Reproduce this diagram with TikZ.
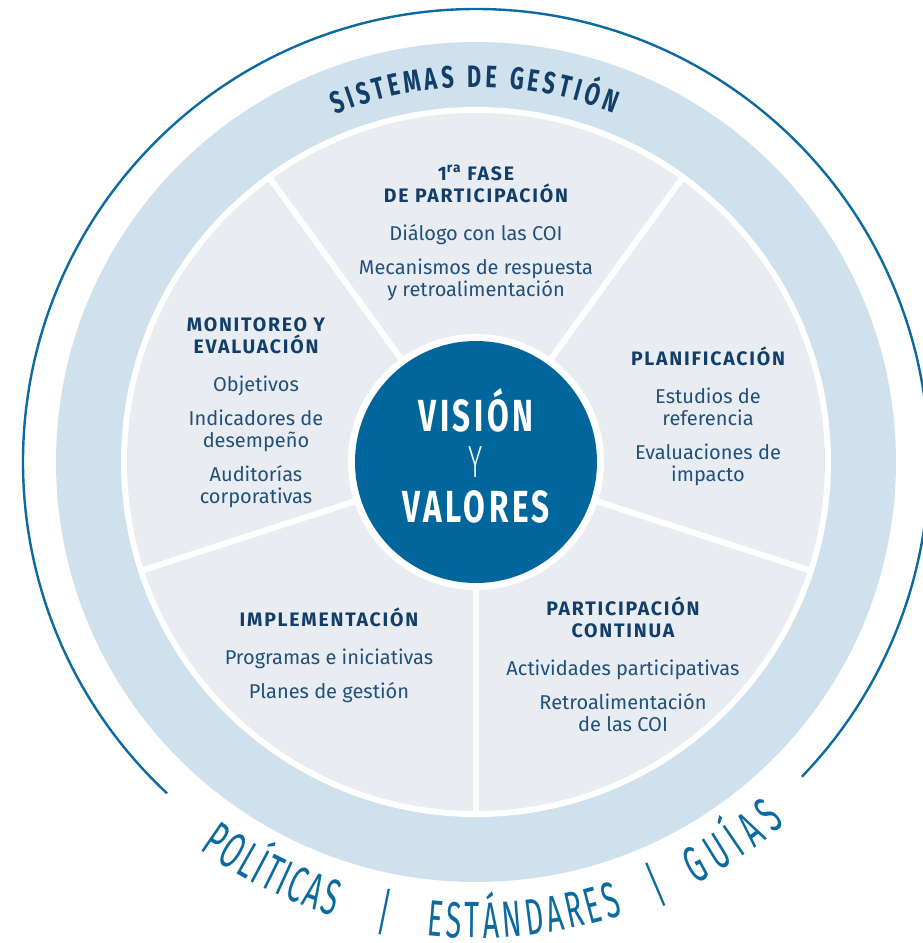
\documentclass[tikz,border=0pt]{standalone}
\usepackage{fontspec}
\setmainfont{Fira Sans}
\newfontfamily\titlefont[LetterSpace=9]{Fira Sans}
\newfontfamily\condfont[FakeStretch=0.7,LetterSpace=8]{Fira Sans}
\newfontfamily\thincond[FakeStretch=0.6]{Fira Sans Light}
\newfontfamily\arccond[FakeStretch=0.56]{Fira Sans}
\newfontfamily\arcfont[FakeStretch=0.7]{Fira Sans}
\usepackage{tikz}
\usetikzlibrary{positioning,decorations.text}

\definecolor{coreblue}{RGB}{0,102,155}
\definecolor{bandblue}{RGB}{207,225,236}
\definecolor{sectorgray}{RGB}{233,237,242}
\definecolor{navy}{RGB}{18,62,106}
\definecolor{bodyblue}{RGB}{32,80,124}
\definecolor{lineblue}{RGB}{12,106,160}

\newcommand{\ttl}{\titlefont\bfseries\fontsize{19.5}{22}\selectfont\color{navy}}
\newcommand{\vis}{\condfont\bfseries\fontsize{45}{45.5}\selectfont}
\newcommand{\yl}{\thincond\fontsize{45}{45.5}\selectfont}
\newcommand{\bottomfont}{\arccond\fontsize{51}{51}\selectfont}

\tikzset{
    sector/.style={align=center, inner sep=0pt, anchor=north,
        text=bodyblue, font=\fontsize{20}{22}\selectfont},
    divider/.style={white, line width=6pt},
    bar/.style={text=lineblue, inner sep=0pt, font=\bottomfont}
}

\begin{document}
\begin{tikzpicture}[x=1pt,y=1pt]

        \useasboundingbox (-476,-481) rectangle (446,462);

        % Outer ring
        \draw[lineblue, line width=2.4pt]
            (227:453) arc[start angle=227, end angle=-44, radius=453];

        \fill[bandblue] (0,0) circle (420);
        \fill[white] (0,0) circle (355);
        \fill[sectorgray] (0,0) circle (349);

        \foreach \a in {270,342,54,126,198}
            \draw[divider] (0,0) -- (\a:352);

        \fill[white] (0,0) circle (128);

        % Core
        \node [circle,
        fill=coreblue,
        minimum size=242pt,
        inner sep=0pt
            ] (core) at (0,0) {};

        \node [text=white,
        align=center,
        inner sep=0pt,
        font=\fontsize{45}{45.5}\selectfont
            ] (motto) at ([yshift=6pt]core.center) {\vis VISIÓN\\ \yl Y\\ \vis VALORES};

        % Sectors
        \node [sector] (fase) at (0,297)
            {\ttl 1\textsuperscript{ra} FASE\\
             \ttl DE PARTICIPACIÓN\\[16pt]
             Diálogo con las COI\\[12pt]
             Mecanismos de respuesta\\
             y retroalimentación};

        \node [sector] (plan) at (232,115)
            {\ttl PLANIFICACIÓN\\[16pt]
             Estudios de\\
             referencia\\[12pt]
             Evaluaciones de\\
             impacto};

        \node [sector] (cont) at (147,-135)
            {\ttl PARTICIPACIÓN\\
             \ttl CONTINUA\\[16pt]
             Actividades participativas\\[12pt]
             Retroalimentación\\
             de las COI};

        \node [sector] (impl) at (-147,-146)
            {\ttl IMPLEMENTACIÓN\\[16pt]
             Programas e iniciativas\\[12pt]
             Planes de gestión};

        \node [sector] (moni) at (-220,145)
            {\ttl MONITOREO Y\\
             \ttl EVALUACIÓN\\[16pt]
             Objetivos\\[12pt]
             Indicadores de\\
             desempeño\\[12pt]
             Auditorías\\
             corporativas};

        % Arc labels
        \path[decorate, decoration={text along path,
            text={|\arcfont\bfseries\fontsize{31}{31}\selectfont|SISTEMAS DE GESTIÓN},
            text align=fit to path, text color=navy}]
            (112:375) arc[start angle=112, end angle=68.5, radius=375];

        \path[decorate, decoration={text along path,
            text={|\bottomfont|POLÍTICAS},
            text align=fit to path, text color=lineblue}]
            (234.5:476) arc[start angle=234.5, end angle=252.5, radius=476];

        \path[decorate, decoration={text along path,
            text={|\bottomfont|ESTÁNDARES},
            text align=fit to path, text color=lineblue}]
            (264:476) arc[start angle=264, end angle=288, radius=476];

        \path[decorate, decoration={text along path,
            text={|\bottomfont|GUÍAS},
            text align=fit to path, text color=lineblue}]
            (297.5:476) arc[start angle=297.5, end angle=310.5, radius=476];

        \node [bar, rotate=348.5] (bar1) at (258.5:459) {|};
        \node [bar, rotate=23] (bar2) at (293:459) {|};

\end{tikzpicture}
\end{document}
